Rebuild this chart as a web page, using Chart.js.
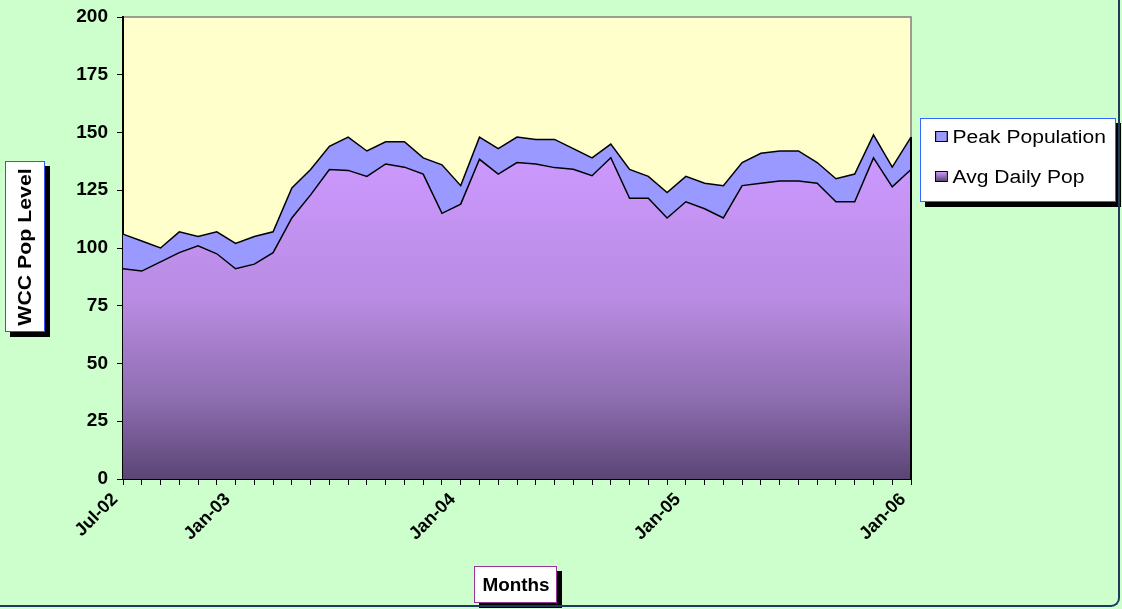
<!DOCTYPE html>
<html>
<head>
<meta charset="utf-8">
<script src="https://cdn.jsdelivr.net/npm/chart.js@4/dist/chart.umd.min.js"></script>
<style>
  html, body { margin: 0; padding: 0; background: #CCFFCC; }
  #wrap { position: relative; width: 1122px; height: 609px; overflow: hidden; background: #CCFFCC; font-family: Arial, "Liberation Sans", sans-serif; }
  #frame { position: absolute; left: -4px; top: -4px; width: 1124px; height: 611px; box-sizing: border-box; border-right: 2px solid #1F3A5A; border-bottom: 2px solid #1F3A5A; border-bottom-right-radius: 9px; pointer-events: none; }
  canvas { position: absolute; left: 0; top: 0; }
  .box { position: absolute; background: #fff; box-shadow: 5px 5px 0 #000; box-sizing: border-box; }
  #ytitle { left: 5px; top: 161px; width: 40px; height: 171px; border: 1px solid #3355FF; }
  #ytitle span { position: absolute; left: 50%; top: 50%; transform: translate(-50%, -50%) rotate(-90deg) scaleX(1.12); white-space: nowrap; font-weight: bold; font-size: 19px; color: #000; }
  #xtitle { left: 474px; top: 566px; width: 83px; height: 37px; border: 1px solid #993399; color: #000; }
  #xtitle span { position: absolute; left: 50%; top: 50%; transform: translate(-50%, -50%) scaleX(1.05); white-space: nowrap; font-weight: bold; font-size: 18px; }
  #legend { left: 920px; top: 118px; width: 196px; height: 84px; border: 1px solid #3366FF; }
  .li { position: absolute; left: 14px; font-size: 18px; color: #000; white-space: nowrap; transform-origin: 0 50%; transform: scaleX(1.17); }
  .sw { display: inline-block; width: 9px; height: 9px; border: 1px solid #000; margin-right: 4px; vertical-align: 1px; }
</style>
</head>
<body>
<div id="wrap">
  <canvas id="c" width="1122" height="609"></canvas>
  <div class="box" id="ytitle"><span>WCC Pop Level</span></div>
  <div class="box" id="xtitle"><span>Months</span></div>
  <div class="box" id="legend"></div>
  <div id="frame"></div>
</div>
<script>
// ---- data ----
const months = [
  'Jul-02','Aug-02','Sep-02','Oct-02','Nov-02','Dec-02',
  'Jan-03','Feb-03','Mar-03','Apr-03','May-03','Jun-03','Jul-03','Aug-03','Sep-03','Oct-03','Nov-03','Dec-03',
  'Jan-04','Feb-04','Mar-04','Apr-04','May-04','Jun-04','Jul-04','Aug-04','Sep-04','Oct-04','Nov-04','Dec-04',
  'Jan-05','Feb-05','Mar-05','Apr-05','May-05','Jun-05','Jul-05','Aug-05','Sep-05','Oct-05','Nov-05','Dec-05',
  'Jan-06'
];
const shownMonthLabels = ['Jul-02','Jan-03','Jan-04','Jan-05','Jan-06'];
const peakPopulation = [106,103,100,107,105,107,102,105,107,126,134,144,148,142,146,146,139,136,127,148,143,148,147,147,143,139,145,134,131,124,131,128,127,137,141,142,142,137,130,132,149,135,148];
const avgDailyPop = [91,90,94,98,101,97.5,91,93,98,113,123,134,133.6,131,136.4,135,132,115,119,138.4,132,137,136.4,134.8,134.1,131.3,139.1,121.5,121.5,113,120,117,113,127,128,129,129,128,120,120,139,126.5,134];
const seriesNames = ['Peak Population', 'Avg Daily Pop'];
const yTicks = { min: 0, max: 200, step: 25 };

const FONT = 'Arial, "Liberation Sans", sans-serif';

const plotBg = {
  id: 'plotBg',
  beforeDraw(chart) {
    const a = chart.chartArea, c = chart.ctx;
    c.save();
    c.fillStyle = '#FFFFCC';
    c.fillRect(a.left, a.top, a.right - a.left, a.bottom - a.top);
    c.strokeStyle = '#808080';
    c.lineWidth = 1.5;
    c.beginPath();
    c.moveTo(a.left, a.top); c.lineTo(a.right, a.top); c.lineTo(a.right, a.bottom);
    c.stroke();
    c.restore();
  },
  afterDatasetsDraw(chart) {
    // closing edge of the area outline at the right end
    const a = chart.chartArea, c = chart.ctx;
    const last = peakPopulation.length - 1;
    const x = chart.scales.x.getPixelForValue(last);
    const y = chart.scales.y.getPixelForValue(peakPopulation[last]);
    c.save();
    c.strokeStyle = '#000';
    c.lineWidth = 2;
    c.beginPath();
    c.moveTo(x, y); c.lineTo(x, a.bottom);
    c.stroke();
    c.restore();
  }
};

function avgGradient(ctx) {
  const chart = ctx.chart;
  const a = chart.chartArea;
  if (!a) return '#CC99FF';
  const top = chart.scales.y.getPixelForValue(140);
  const g = chart.ctx.createLinearGradient(0, top, 0, a.bottom);
  g.addColorStop(0, '#CC99FF');
  g.addColorStop(0.45, '#B98BE2');
  g.addColorStop(0.75, '#8E6EB0');
  g.addColorStop(1, '#5A4575');
  return g;
}

const chart = new Chart(document.getElementById('c'), {
  type: 'line',
  data: {
    labels: months,
    datasets: [
      { label: seriesNames[0], data: peakPopulation, fill: 'origin', backgroundColor: '#9999FF',
        borderColor: '#000', borderWidth: 1.5, pointRadius: 0, tension: 0, order: 2 },
      { label: seriesNames[1], data: avgDailyPop, fill: 'origin', backgroundColor: avgGradient,
        borderColor: '#000', borderWidth: 1.5, pointRadius: 0, tension: 0, order: 1 }
    ]
  },
  options: {
    responsive: false,
    animation: false,
    events: [],
    layout: { padding: { left: 0, top: 17, right: 211, bottom: 0 } },
    plugins: { legend: { display: false }, tooltip: { enabled: false } },
    scales: {
      x: {
        offset: false,
        grid: { display: true, drawOnChartArea: false, drawTicks: true, tickLength: 6, color: '#000', lineWidth: 1 },
        border: { display: true, color: '#000', width: 2 },
        ticks: {
          autoSkip: false, minRotation: 45, maxRotation: 45, color: '#000', padding: 4, labelOffset: -8,
          font: { family: FONT, size: 18, weight: 'bold' },
          callback(v, i) { const l = months[i]; return shownMonthLabels.includes(l) ? l : ''; }
        },
        afterFit(s) { s.height = 130; s.paddingLeft = 0; s.paddingRight = 0; }
      },
      y: {
        min: yTicks.min, max: yTicks.max,
        grid: { display: true, drawOnChartArea: false, drawTicks: true, tickLength: 6, color: '#000' },
        border: { display: true, color: '#000', width: 2 },
        ticks: { stepSize: yTicks.step, color: '#000', padding: 9, font: { family: FONT, size: 19, weight: 'bold' } },
        afterFit(s) { s.width = 123; s.paddingTop = 0; s.paddingBottom = 0; }
      }
    }
  },
  plugins: [plotBg]
});

// legend built from datasets
const legend = document.getElementById('legend');
const swatches = ['#9999FF', 'linear-gradient(#CC99FF, #5A4575)'];
seriesNames.forEach((name, i) => {
  const d = document.createElement('div');
  d.className = 'li';
  d.style.top = (i === 0 ? 8 : 48) + 'px';
  const s = document.createElement('span');
  s.className = 'sw';
  s.style.background = swatches[i];
  d.appendChild(s);
  d.appendChild(document.createTextNode(name));
  legend.appendChild(d);
});
</script>
</body>
</html>
